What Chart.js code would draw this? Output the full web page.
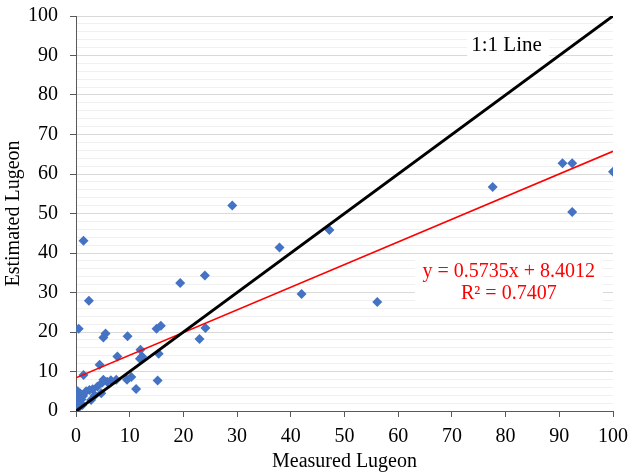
<!DOCTYPE html>
<html>
<head>
<meta charset="utf-8">
<script src="https://cdn.jsdelivr.net/npm/chart.js@4.4.1/dist/chart.umd.min.js"></script>
<style>
  html, body { margin: 0; padding: 0; background: #fff; }
  #wrap { width: 631px; height: 472px; }
</style>
</head>
<body>
<div id="wrap"><canvas id="lugeon-chart" width="631" height="472"></canvas></div>
<script>
const measuredLugeon = [
    1.4, 2.4, 0.5, 5.1, 5.5, 9.6, 19.4, 24.0, 29.1, 37.9, 47.2, 42.0, 56.1,
    77.6, 90.6, 92.4, 92.4, 100.0, 15.0, 15.8, 24.1, 23.0, 15.4, 15.2, 12.0,
    11.9, 12.3, 7.7, 4.4, 1.4, 11.2, 9.5, 10.3, 7.5, 6.5, 5.8, 5.1, 4.9,
    4.0, 3.1, 2.5, 1.9, 4.7, 3.5, 2.8, 0.3, 0.8, 0.2, 1.0, 0.5, 0.1, 1.2,
    0.6, 1.3
];
const estimatedLugeon = [
    43.1, 27.9, 20.8, 18.6, 19.6, 18.9, 32.4, 34.3, 52.0, 41.4, 45.8, 29.6, 27.6,
    56.7, 62.7, 62.7, 50.4, 60.6, 20.8, 21.6, 21.0, 18.2, 14.5, 7.7, 15.5,
    13.2, 13.8, 13.8, 11.7, 9.1, 5.6, 7.9, 8.6, 7.9, 7.8, 7.4, 7.9, 7.2,
    6.2, 5.5, 5.3, 5.0, 4.5, 4.0, 2.8, 5.0, 4.4, 3.3, 2.9, 2.2, 1.7, 1.5,
    1.0, 3.8
];

// linear fit shown on the chart
const fitSlope = 0.5735;
const fitIntercept = 8.4012;
const fitR2 = 0.7407;

const axisTicks = [0, 10, 20, 30, 40, 50, 60, 70, 80, 90, 100];

const points = measuredLugeon.map((x, i) => ({ x: x, y: estimatedLugeon[i] }));
const fitLine = [0, 100].map(x => ({ x: x, y: fitSlope * x + fitIntercept }));
const oneToOne = [0, 100].map(x => ({ x: x, y: x }));

const serif = '"Liberation Serif", "Times New Roman", serif';
const axisColor = '#595959';

let labelPlugin = {
    id: 'chartLabels',
    beforeDatasetsDraw: function (chart) {
        let ctx = chart.ctx;
        let xs = chart.scales.x, ys = chart.scales.y;
        ctx.save();
        ctx.fillStyle = '#ffffff';
        // boxes behind the text labels
        let ex = xs.getPixelForValue(80.6);
        let ey = ys.getPixelForValue(32.6);
        ctx.fillRect(ex - 94, ey - 24, 188, 48);
        let lx = xs.getPixelForValue(73.6);
        let ly = ys.getPixelForValue(92.6);
        ctx.fillRect(lx - 4, ly - 13, 82, 26);
        ctx.restore();
    },
    afterDatasetsDraw: function (chart) {
        let ctx = chart.ctx;
        let xs = chart.scales.x, ys = chart.scales.y;
        ctx.save();
        ctx.textBaseline = 'middle';
        ctx.fillStyle = '#000000';
        ctx.font = '21px ' + serif;
        ctx.textAlign = 'left';
        ctx.fillText('1:1 Line', xs.getPixelForValue(73.6), ys.getPixelForValue(92.6));

        ctx.fillStyle = '#ff0000';
        ctx.font = '20px ' + serif;
        ctx.textAlign = 'center';
        let ex = xs.getPixelForValue(80.6);
        ctx.fillText('y = ' + fitSlope + 'x + ' + fitIntercept, ex, ys.getPixelForValue(35.3));
        ctx.fillText('R² = ' + fitR2, ex, ys.getPixelForValue(29.8));
        ctx.restore();
    }
};

let ctx = document.getElementById('lugeon-chart').getContext('2d');

window.lugeonChart = new Chart(ctx, {
    type: 'scatter',
    data: {
        datasets: [{
            label: 'Lugeon',
            data: points,
            pointStyle: 'rectRot',
            pointRadius: 5,
            pointBackgroundColor: '#4472c4',
            pointBorderColor: '#4472c4',
            pointBorderWidth: 0,
            order: 3
        }, {
            label: 'Linear fit',
            type: 'line',
            data: fitLine,
            borderColor: '#ff0000',
            borderWidth: 1.6,
            pointRadius: 0,
            fill: false,
            order: 2
        }, {
            label: '1:1 Line',
            type: 'line',
            data: oneToOne,
            borderColor: '#000000',
            borderWidth: 3,
            pointRadius: 0,
            fill: false,
            order: 1
        }]
    },
    options: {
        responsive: false,
        animation: false,
        layout: {
            padding: { top: 16, right: 18, left: 0, bottom: 0 }
        },
        plugins: {
            legend: { display: false },
            tooltip: { enabled: false }
        },
        scales: {
            x: {
                type: 'linear',
                min: 0,
                max: 100,
                afterFit: function (scale) {
                    scale.height = 61;
                    scale.paddingLeft = 0;
                    scale.paddingRight = 0;
                },
                afterBuildTicks: function (scale) {
                    scale.ticks = axisTicks.map(v => ({ value: v }));
                },
                ticks: {
                    color: '#000000',
                    padding: 8,
                    maxRotation: 0,
                    autoSkip: false,
                    font: { family: serif, size: 20 }
                },
                grid: {
                    drawOnChartArea: false,
                    tickLength: 6,
                    tickColor: axisColor
                },
                border: { color: axisColor, width: 1 },
                title: {
                    display: true,
                    text: 'Measured Lugeon',
                    color: '#000000',
                    padding: { top: 0, bottom: 0 },
                    font: { family: serif, size: 20, lineHeight: 1 }
                }
            },
            y: {
                type: 'linear',
                min: 0,
                max: 100,
                afterFit: function (scale) {
                    scale.width = 76;
                    scale.paddingTop = 0;
                    scale.paddingBottom = 0;
                },
                ticks: {
                    stepSize: 2,
                    autoSkip: false,
                    color: '#000000',
                    padding: 12,
                    font: { family: serif, size: 20 },
                    callback: function (value) {
                        return value % 10 === 0 ? value : '';
                    }
                },
                grid: {
                    tickLength: 6,
                    color: function (c) {
                        return c.tick && c.tick.value % 10 === 0 ? '#d9d9d9' : '#f0f0f0';
                    },
                    tickColor: function (c) {
                        return c.tick && c.tick.value % 10 === 0 ? axisColor : 'rgba(0,0,0,0)';
                    }
                },
                border: { color: axisColor, width: 1 },
                title: {
                    display: true,
                    text: 'Estimated Lugeon',
                    color: '#000000',
                    padding: { top: 4, bottom: 0 },
                    font: { family: serif, size: 20, lineHeight: 1 }
                }
            }
        }
    },
    plugins: [labelPlugin]
});
</script>
</body>
</html>
